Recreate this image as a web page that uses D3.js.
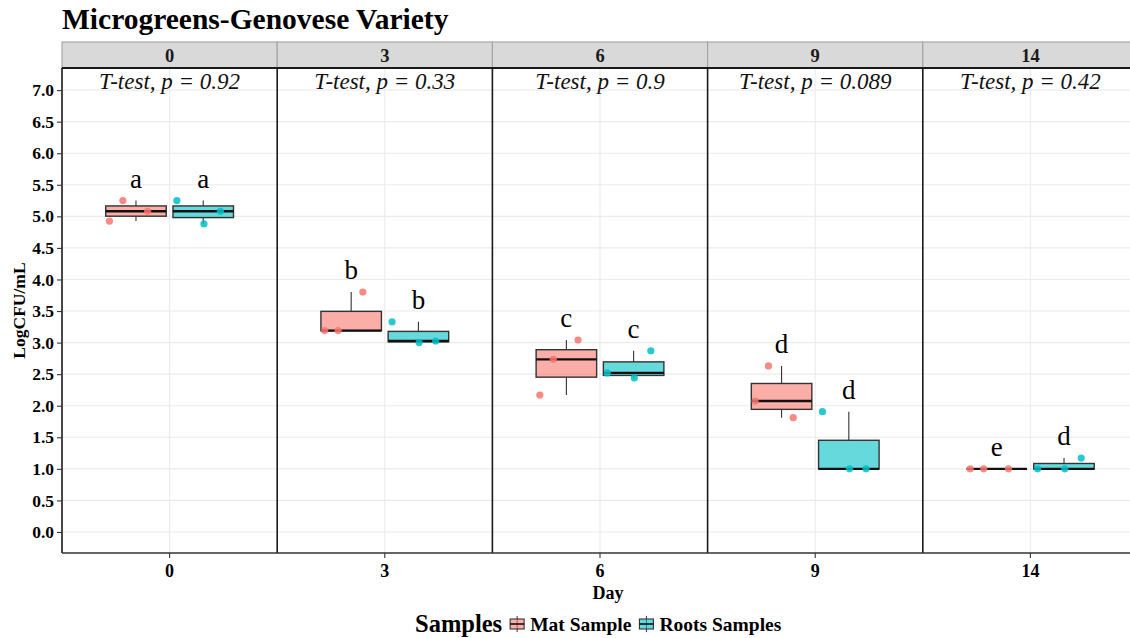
<!DOCTYPE html>
<html><head><meta charset="utf-8">
<script src="https://cdn.jsdelivr.net/npm/d3@7"></script>
<style>body{margin:0;background:#fff}svg{display:block}</style>
</head><body>
<script>
const days = ["0","3","6","9","14"];
const sampleNames = ["Mat Sample","Roots Samples"];
const matValues = [[4.925,5.25,5.08],[3.19,3.19,3.80],[2.17,2.735,3.04],[2.075,2.63,1.81],[1.0,1.0,1.0]];
const rootsValues = [[5.25,4.88,5.08],[3.33,3.00,3.025],[2.52,2.44,2.87],[1.905,1.0,1.0],[1.0,1.0,1.17]];
const matJitter = [-0.148,-0.073,0.065];
const rootsJitter = [-0.147,0.004,0.096];
const pValues = ["0.92","0.33","0.9","0.089","0.42"];
const matLetters = ["a","b","c","d","e"];
const rootsLetters = ["a","b","c","d","d"];
const yTickValues = [0,0.5,1,1.5,2,2.5,3,3.5,4,4.5,5,5.5,6,6.5,7];
const colors = ["#F8766D","#00BFC4"];
const chartTitle = "Microgreens-Genovese Variety";

(function(){
const W = 1130, H = 638;
const serif = "'Liberation Serif','Times New Roman',serif";
const svg = d3.select("body").append("svg").attr("width",W).attr("height",H)
  .style("font-family",serif);

const pLeft = 62, pRight = 1138, pTop = 68, pBottom = 553, stripTop = 42;
const panelX = d3.scaleBand().domain(days).range([pLeft,pRight]).padding(0);
const bw = panelX.bandwidth();
const innerX = d3.scaleLinear().domain([0.4,1.6]).range([0,bw]);
const y = d3.scaleLinear().domain([-0.333,7.35]).range([pBottom,pTop]);
const dodge = [-0.1875, 0.1875];
const boxW = 0.3375;

// gridlines
const grid = svg.append("g");
grid.selectAll("line.h").data(yTickValues).join("line")
  .attr("x1",pLeft).attr("x2",W).attr("y1",d=>y(d)).attr("y2",d=>y(d))
  .attr("stroke","#ebebeb").attr("stroke-width",1.1);
grid.selectAll("line.v").data(days).join("line")
  .attr("x1",d=>panelX(d)+innerX(1)).attr("x2",d=>panelX(d)+innerX(1))
  .attr("y1",pTop).attr("y2",pBottom)
  .attr("stroke","#ebebeb").attr("stroke-width",1.1);

// strips
const strip = svg.append("g");
strip.selectAll("rect").data(days).join("rect")
  .attr("x",d=>panelX(d)).attr("y",stripTop).attr("width",bw).attr("height",pTop-stripTop)
  .attr("fill","#d9d9d9").attr("stroke","#a3a3a3").attr("stroke-width",1.1);
strip.selectAll("text").data(days).join("text")
  .attr("x",d=>panelX(d)+bw/2).attr("y",(stripTop+pTop)/2+6.5)
  .attr("text-anchor","middle").attr("font-weight","bold").attr("font-size",18.5)
  .attr("fill","#1a1a1a").text(d=>d);

function stats(vals){
  const s = vals.slice().sort(d3.ascending);
  const q1 = d3.quantile(s,0.25), med = d3.quantile(s,0.5), q3 = d3.quantile(s,0.75);
  const iqr = q3-q1;
  const lo = d3.min(s.filter(v=>v>=q1-1.5*iqr)), hi = d3.max(s.filter(v=>v<=q3+1.5*iqr));
  return {q1,med,q3,lo,hi,max:d3.max(s)};
}

const series = [matValues, rootsValues];
const jitters = [matJitter, rootsJitter];
const letters = [matLetters, rootsLetters];

days.forEach((day,di)=>{
  const g = svg.append("g").attr("transform",`translate(${panelX(day)},0)`);
  series.forEach((ser,si)=>{
    const st = stats(ser[di]);
    const cx = innerX(1+dodge[si]);
    const x0 = innerX(1+dodge[si]-boxW/2), x1 = innerX(1+dodge[si]+boxW/2);
    g.append("line").attr("x1",cx).attr("x2",cx).attr("y1",y(st.q3)).attr("y2",y(st.hi))
      .attr("stroke","#333").attr("stroke-width",1.1);
    g.append("line").attr("x1",cx).attr("x2",cx).attr("y1",y(st.q1)).attr("y2",y(st.lo))
      .attr("stroke","#333").attr("stroke-width",1.1);
    g.append("rect").attr("x",x0).attr("width",x1-x0).attr("y",y(st.q3))
      .attr("height",Math.max(0,y(st.q1)-y(st.q3)))
      .attr("fill",colors[si]).attr("fill-opacity",0.6)
      .attr("stroke","#333").attr("stroke-width",1.4);
    g.append("line").attr("x1",x0).attr("x2",x1).attr("y1",y(st.med)).attr("y2",y(st.med))
      .attr("stroke","#111").attr("stroke-width",2.4);
    g.selectAll(null).data(ser[di]).join("circle")
      .attr("cx",(v,i)=>innerX(1+dodge[si]+jitters[si][i]))
      .attr("cy",v=>y(v)).attr("r",3.6)
      .attr("fill",colors[si]).attr("fill-opacity",0.85);
    g.append("text").attr("x",cx).attr("y",y(st.max+0.2))
      .attr("text-anchor","middle").attr("font-size",27).attr("fill","#000")
      .text(letters[si][di]);
  });
  g.append("text").attr("x",bw/2).attr("y",89)
    .attr("text-anchor","middle").attr("font-style","italic").attr("font-size",23)
    .attr("fill","#111").text(`T-test, p = ${pValues[di]}`);
});

// panel borders
const borders = svg.append("g");
borders.selectAll("line").data(days).join("line")
  .attr("x1",d=>panelX(d)).attr("x2",d=>panelX(d)).attr("y1",pTop).attr("y2",pBottom)
  .attr("stroke","#1a1a1a").attr("stroke-width",1.6);
borders.append("line").attr("x1",pLeft).attr("x2",W).attr("y1",pTop).attr("y2",pTop)
  .attr("stroke","#1a1a1a").attr("stroke-width",1.8);
borders.append("line").attr("x1",pLeft).attr("x2",W).attr("y1",pBottom).attr("y2",pBottom)
  .attr("stroke","#333").attr("stroke-width",1.4);

// axes
const yAxis = svg.append("g").attr("transform",`translate(${pLeft},0)`)
  .call(d3.axisLeft(y).tickValues(yTickValues).tickFormat(d3.format(".1f")).tickSize(5).tickPadding(3));
yAxis.select(".domain").remove();
yAxis.selectAll(".tick line").attr("stroke","#333").attr("stroke-width",1.1);
yAxis.selectAll(".tick text").attr("font-family",serif).attr("font-weight","bold")
  .attr("font-size",17.5).attr("fill","#000");

const xAxis = svg.append("g").attr("transform",`translate(0,${pBottom})`)
  .call(d3.axisBottom(panelX).tickSize(5).tickPadding(6));
xAxis.select(".domain").remove();
xAxis.selectAll(".tick line").attr("stroke","#333").attr("stroke-width",1.1);
xAxis.selectAll(".tick text").attr("font-family",serif).attr("font-weight","bold")
  .attr("font-size",18).attr("fill","#000");

// axis titles
svg.append("text").attr("x",(pLeft+W)/2+12).attr("y",599).attr("text-anchor","middle")
  .attr("font-weight","bold").attr("font-size",18).text("Day");
svg.append("text").attr("transform",`translate(25,${(pTop+pBottom)/2}) rotate(-90)`)
  .attr("text-anchor","middle").attr("font-weight","bold").attr("font-size",17.5).text("LogCFU/mL");

// title
svg.append("text").attr("x",pLeft).attr("y",29).attr("font-weight","bold")
  .attr("font-size",29.5).attr("fill","#000").text(chartTitle);

// legend
const leg = svg.append("g").attr("transform","translate(415,624)");
const legTitle = leg.append("text").attr("x",0).attr("y",8).attr("font-weight","bold")
  .attr("font-size",24.5).text("Samples");
let lx = legTitle.node().getComputedTextLength() + 7;
sampleNames.forEach((name,i)=>{
  const k = leg.append("g").attr("transform",`translate(${lx},0)`);
  k.append("line").attr("x1",8).attr("x2",8).attr("y1",-8).attr("y2",8).attr("stroke","#333").attr("stroke-width",1);
  k.append("rect").attr("x",1).attr("y",-5).attr("width",14).attr("height",10)
    .attr("fill",colors[i]).attr("fill-opacity",0.6).attr("stroke","#333").attr("stroke-width",1.1);
  k.append("line").attr("x1",1).attr("x2",15).attr("y1",0).attr("y2",0).attr("stroke","#111").attr("stroke-width",1.6);
  const t = k.append("text").attr("x",21).attr("y",6.5).attr("font-weight","bold").attr("font-size",19.5).text(name);
  lx += 21 + t.node().getComputedTextLength() + 7;
});
})();
</script>
</body></html>
